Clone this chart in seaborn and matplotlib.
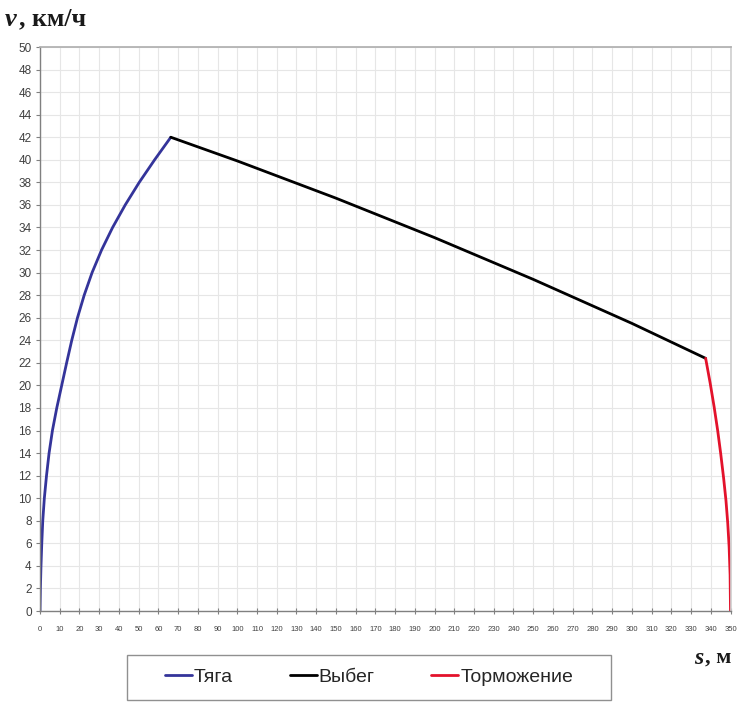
import numpy as np
import pandas as pd
import matplotlib
matplotlib.use("Agg")
import matplotlib.pyplot as plt
import seaborn as sns
from matplotlib.ticker import MultipleLocator
from matplotlib.patches import Rectangle

# Traction (Тяга)
s_traction = [0, 0.2, 0.5, 0.9, 1.4, 2.2, 3.3, 4.6, 6.3, 8.5, 11.0, 13.5, 16.1, 19.0, 22.4, 26.4, 31.2, 36.8, 43.2, 50.3, 58.1, 66.3]
v_traction = [0, 2, 4, 6, 8, 10, 12, 14, 16, 18, 20, 22, 24, 26, 28, 30, 32, 34, 36, 38, 40, 42]
# Coasting (Выбег)
s_coast = [66.3, 100, 150, 200, 250, 300, 337.4]
v_coast = [42.0, 39.9, 36.6, 33.1, 29.4, 25.5, 22.4]
# Braking (Торможение)
s_brake = [337.4, 339.7, 341.7, 343.5, 345.0, 346.5, 347.7, 348.6, 349.3, 349.8, 350.0]
v_brake = [22.4, 20.2, 18.1, 16.0, 14.0, 11.8, 9.8, 7.8, 5.7, 3.2, 0]

labels = ["Тяга", "Выбег", "Торможение"]
colors = ["#34349a", "#000000", "#e3122b"]

df = pd.concat([
    pd.DataFrame({"s": s_traction, "v": v_traction, "phase": labels[0]}),
    pd.DataFrame({"s": s_coast, "v": v_coast, "phase": labels[1]}),
    pd.DataFrame({"s": s_brake, "v": v_brake, "phase": labels[2]}),
], ignore_index=True)

sns.set_theme(style="white")
plt.rcParams["font.family"] = ["Liberation Sans", "DejaVu Sans"]

fig = plt.figure(figsize=(7.44, 7.03), dpi=100)
ax = fig.add_axes([40/744, 1-611/703, (730.5-40)/744, (611-47)/703])

sns.lineplot(data=df, x="s", y="v", hue="phase", palette=dict(zip(labels, colors)),
             sort=False, estimator=None, linewidth=2.0, ax=ax, legend=False)
for ln in ax.lines:
    ln.set_solid_joinstyle("round")

ax.set_xlim(0, 350)
ax.set_ylim(0, 50)
ax.xaxis.set_major_locator(MultipleLocator(10))
ax.yaxis.set_major_locator(MultipleLocator(2))
ax.grid(True, color="#e6e6e6", linewidth=0.8)
ax.set_axisbelow(True)
for side in ["left", "bottom"]:
    ax.spines[side].set_color("#808080")
    ax.spines[side].set_linewidth(1.0)
ax.spines["top"].set_color("#b0b0b0")
ax.spines["right"].set_color("#d0d0d0")
ax.tick_params(axis="y", labelsize=8.5, colors="#404040", direction="out", length=3, width=0.8, pad=3, color="#808080", left=True)
ax.tick_params(axis="x", labelsize=5.5, colors="#404040", direction="inout", length=4, width=0.8, pad=9, color="#808080", bottom=True)
ax.set_xlabel("")
ax.set_ylabel("")

fig.text(5/744, 1-19/703, "v", fontsize=19, fontstyle="italic", fontweight="bold",
         family=["Liberation Serif"], va="center", ha="left", color="#1a1a1a")
fig.text(19/744, 1-19/703, ", км/ч", fontsize=18.5, fontweight="bold",
         family=["Liberation Serif"], va="center", ha="left", color="#1a1a1a")
fig.text(694/744, 1-658/703, "s", fontsize=17, fontstyle="italic", fontweight="bold",
         family=["Liberation Serif"], va="center", ha="left", color="#1a1a1a")
fig.text(705/744, 1-658/703, ", м", fontsize=16, fontweight="bold",
         family=["Liberation Serif"], va="center", ha="left", color="#1a1a1a")

# legend box
fig.patches.append(Rectangle((127/744, 1-700/703), (611-127)/744, 45/703,
                             transform=fig.transFigure, facecolor="white",
                             edgecolor="#909090", linewidth=1.0, zorder=0))
handles = [plt.Line2D([], [], color=c, lw=2.0) for c in colors]
leg = fig.legend(handles, labels, loc="center", bbox_to_anchor=(369/744, 1-677/703),
                 ncol=3, frameon=False, handlelength=1.4,
                 handletextpad=0.1, columnspacing=2.9,
                 prop={"family": ["Liberation Sans Narrow", "Liberation Sans"], "size": 14})

fig.savefig("out.png", dpi=100)
